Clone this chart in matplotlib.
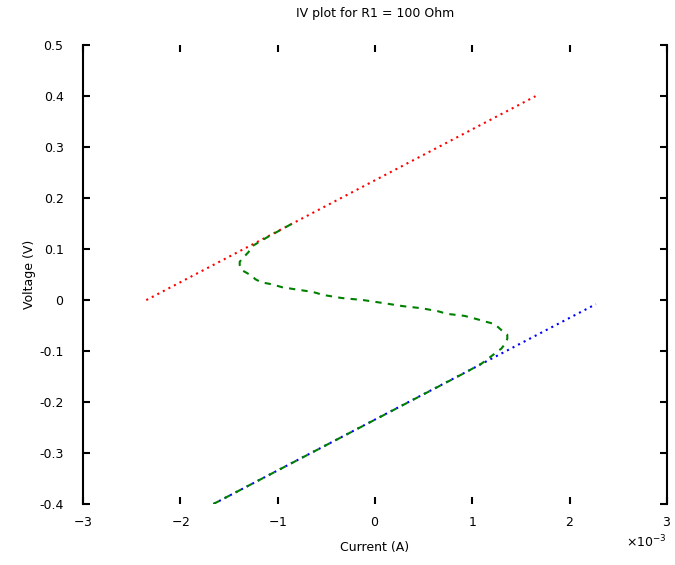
import numpy as np
import matplotlib
matplotlib.use('Agg')
import matplotlib.pyplot as plt
from matplotlib.ticker import ScalarFormatter

plt.rcParams['axes.unicode_minus'] = False

# values (current in mA, voltage in V)
i_red = [-2.35, 1.65]
v_red = [0.0, 0.40]

i_blue = [-1.66, 2.27]
v_blue = [-0.40, -0.008]

i_green = [-1.66, 0.95, 1.10, 1.21, 1.30, 1.34, 1.36, 1.36, 1.30, 1.23, 1.15, 1.04,
           0.92, 0.74, 0.65, 0.48, 0.29, 0.09, -0.12, -0.34, -0.53, -0.64, -0.78,
           -0.95, -1.06, -1.17, -1.23, -1.26, -1.37, -1.39, -1.39, -1.36, -1.30,
           -1.26, -1.10, -0.86]
v_green = [-0.40, -0.14, -0.124, -0.108, -0.095, -0.085, -0.076, -0.068, -0.059,
           -0.047, -0.043, -0.037, -0.031, -0.027, -0.022, -0.016, -0.012, -0.006,
           0.0, 0.004, 0.010, 0.016, 0.020, 0.025, 0.031, 0.035, 0.041, 0.047,
           0.059, 0.069, 0.075, 0.082, 0.094, 0.106, 0.124, 0.149]

def ylab(v, pos):
    v = round(v, 2)
    if v == 0:
        return '0'
    return '%g' % v

fig = plt.figure(figsize=(6.75, 5.65), dpi=100)
ax = fig.add_axes([0.123, 0.108, 0.865, 0.812])

ax.plot(np.array(i_red) * 1e-3, v_red, color='red', linestyle=(0, (1, 2)), linewidth=1.5)
ax.plot(np.array(i_blue) * 1e-3, v_blue, color='blue', linestyle=(0, (1, 2)), linewidth=1.5)
ax.plot(np.array(i_green) * 1e-3, v_green, color='green', linestyle=(0, (3, 3)), linewidth=1.5)

ax.set_xlim(-3e-3, 3e-3)
ax.set_ylim(-0.4, 0.5)
ax.set_xticks(np.arange(-3, 4) * 1e-3)
ax.set_yticks(np.arange(-0.4, 0.51, 0.1))

fmt = ScalarFormatter(useMathText=True)
fmt.set_powerlimits((-2, 2))
ax.xaxis.set_major_formatter(fmt)
ax.yaxis.set_major_formatter(plt.FuncFormatter(ylab))

ax.tick_params(direction='in', top=True, right=True, labelsize=9, length=5, width=1.5)
ax.tick_params(axis='y', pad=14)
ax.tick_params(axis='x', pad=9)
ax.spines['top'].set_visible(False)
ax.spines['bottom'].set_visible(False)
ax.spines['left'].set_linewidth(1.5)
ax.spines['right'].set_linewidth(1.5)

ax.set_xlabel('Current (A)', fontsize=9, labelpad=8)
ax.set_ylabel('Voltage (V)', fontsize=9, labelpad=2)
ax.set_title('IV plot for R1 = 100 Ohm', fontsize=9, pad=20)
ax.xaxis.get_offset_text().set_fontsize(9)

fig.savefig('out.png', dpi=100)
